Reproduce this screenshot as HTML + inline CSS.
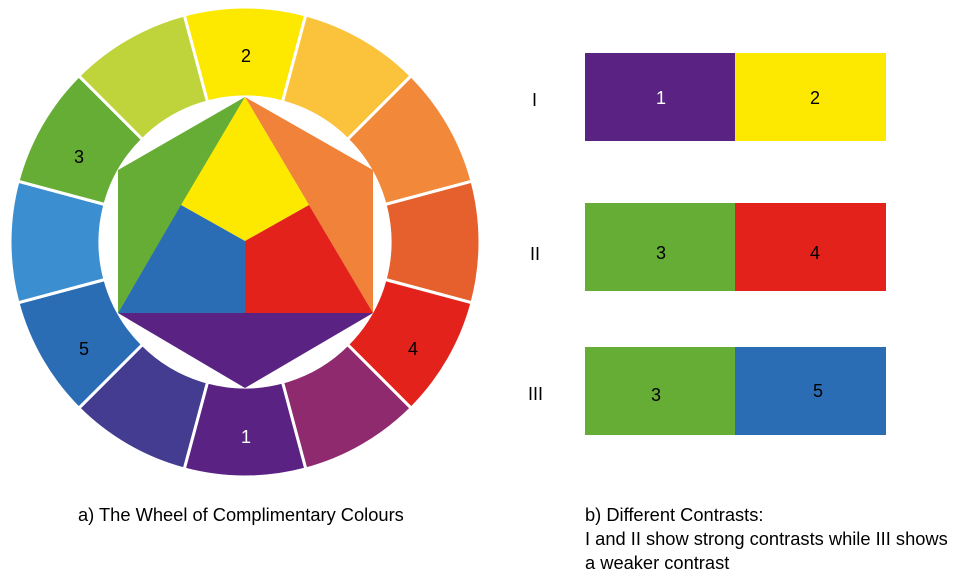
<!DOCTYPE html>
<html><head><meta charset="utf-8"><style>
html,body{margin:0;padding:0;background:#fff;width:960px;height:572px;overflow:hidden}
svg{position:absolute;left:0;top:0}
text{font-family:"Liberation Sans",sans-serif}
</style></head><body>
<svg id="s" width="960" height="572" viewBox="0 0 960 572">
<g id="ring"></g>
<polygon points="245,97 118,170 118,313" fill="#66ad35"/>
<polygon points="245,97 373,170 373,313" fill="#f0823a"/>
<polygon points="118,313 373,313 245,388" fill="#5a2383"/>
<polygon points="245,97 309,205 245,241 181,205" fill="#fde800"/>
<polygon points="181,205 245,241 245,313 118,313" fill="#2a6db5"/>
<polygon points="309,205 245,241 245,313 373,313" fill="#e3231b"/>
<g font-size="18">
<text x="246" y="62" text-anchor="middle">2</text>
<text x="79" y="163" text-anchor="middle">3</text>
<text x="84" y="355" text-anchor="middle">5</text>
<text x="413" y="355" text-anchor="middle">4</text>
<text x="246" y="443" text-anchor="middle" fill="#fff">1</text>
</g>
<rect x="585" y="53" width="151" height="88" fill="#5a2383"/>
<rect x="735" y="53" width="151" height="88" fill="#fde800"/>
<rect x="585" y="203" width="151" height="88" fill="#66ad35"/>
<rect x="735" y="203" width="151" height="88" fill="#e3231b"/>
<rect x="585" y="347" width="151" height="88" fill="#66ad35"/>
<rect x="735" y="347" width="151" height="88" fill="#2a6db5"/>
<g font-size="18">
<text x="656" y="104" fill="#fff">1</text>
<text x="810" y="104">2</text>
<text x="656" y="259">3</text>
<text x="810" y="259">4</text>
<text x="651" y="401">3</text>
<text x="813" y="397">5</text>
<text x="532" y="106">I</text>
<text x="530" y="260">II</text>
<text x="528" y="400">III</text>
</g>
<g font-size="18.3">
<text x="78" y="521">a) The Wheel of Complimentary Colours</text>
<text x="585" y="521">b) Different Contrasts:</text>
<text x="585" y="545">I and II show strong contrasts while III shows</text>
<text x="585" y="569">a weaker contrast</text>
</g>
</svg>
<script>
var cols=["#fde800","#fbc33c","#f2883a","#e5602c","#e3231b","#8f2a6e","#5a2383","#433c90","#2a6db5","#3b8fd0","#66ad35","#bfd33a"];
var cx=245,cy=242,R=235,r=145,g=document.getElementById('ring'),h='';
function p(a,rr){return (cx+rr*Math.cos(a)).toFixed(1)+','+(cy+rr*Math.sin(a)).toFixed(1);}
for(var i=0;i<12;i++){var c=-Math.PI/2+i*Math.PI/6,a0=c-Math.PI/12,a1=c+Math.PI/12;
h+='<path d="M'+p(a0,r)+' L'+p(a0,R)+' A'+R+','+R+' 0 0 1 '+p(a1,R)+' L'+p(a1,r)+' A'+r+','+r+' 0 0 0 '+p(a0,r)+'Z" fill="'+cols[i]+'" stroke="#fff" stroke-width="3"/>';}
g.innerHTML=h;
</script>
</body></html>
